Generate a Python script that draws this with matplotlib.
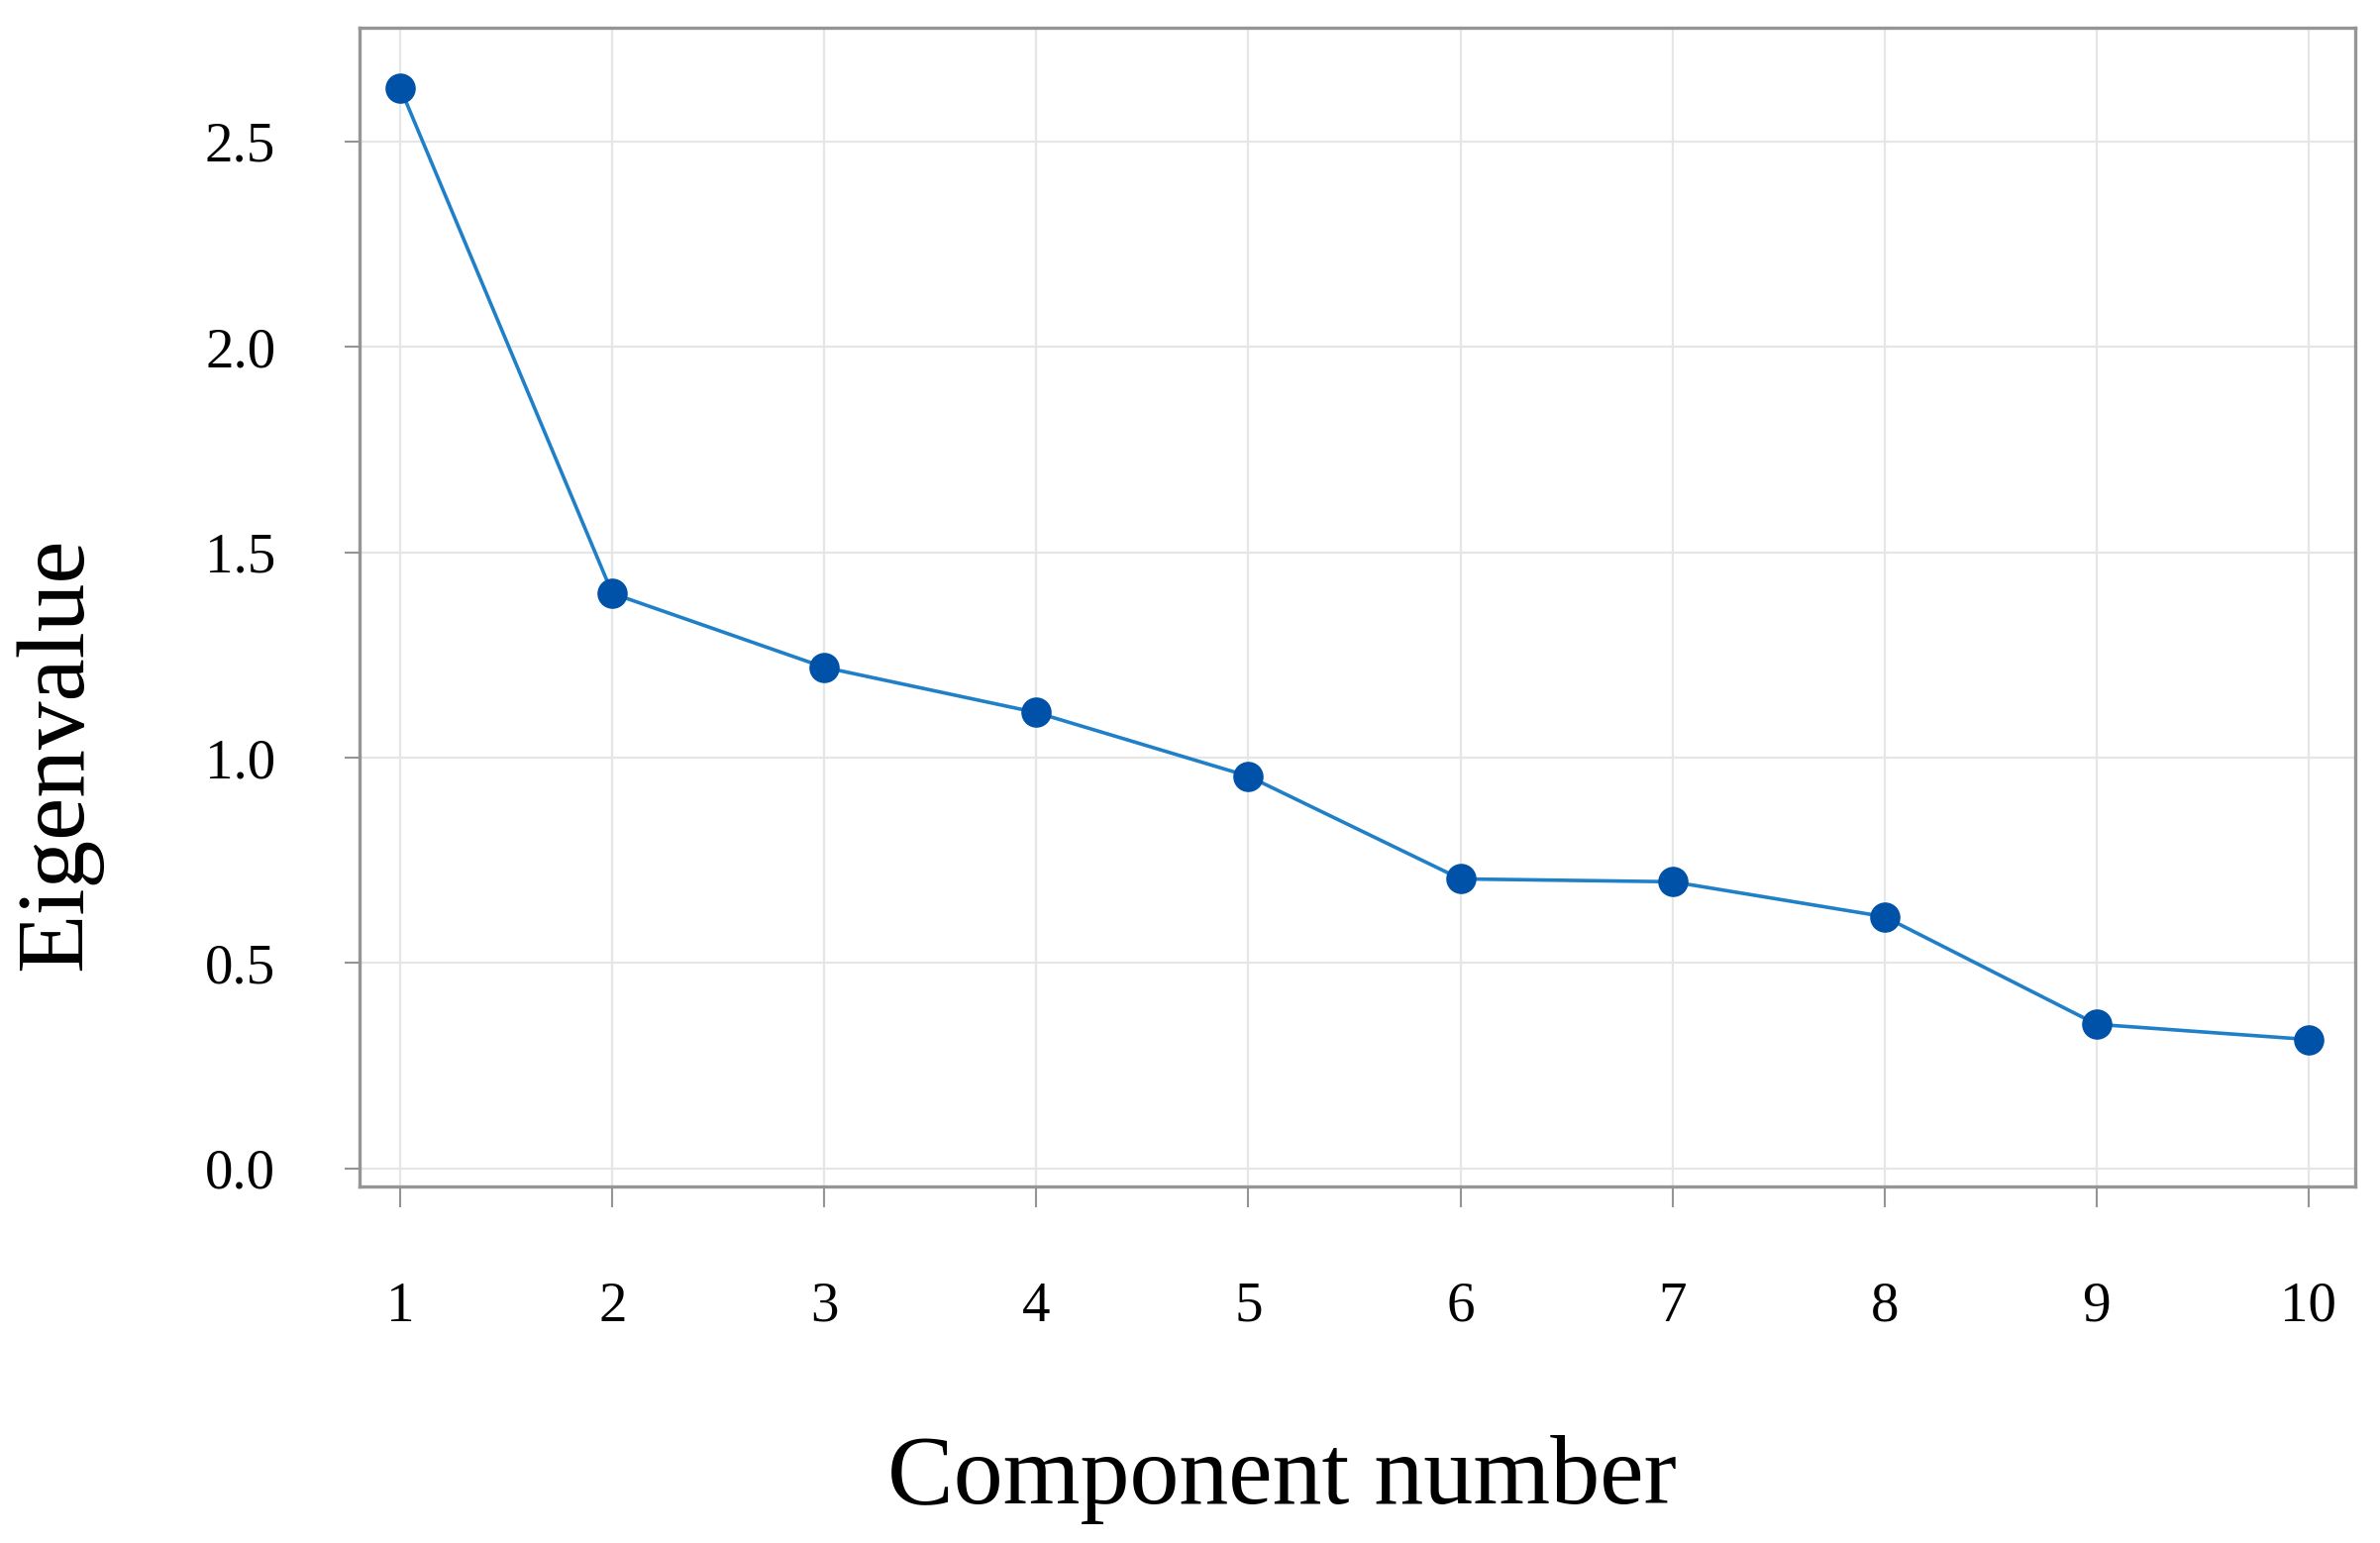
import numpy as np
import matplotlib
matplotlib.use("Agg")
import matplotlib.pyplot as plt

# scree plot values
components = [1, 2, 3, 4, 5, 6, 7, 8, 9, 10]
eigenvalues = [2.63, 1.40, 1.22, 1.11, 0.955, 0.705, 0.698, 0.613, 0.351, 0.314]
y_ticks = [0.0, 0.5, 1.0, 1.5, 2.0, 2.5]

plt.rcParams['font.family'] = ['Liberation Serif', 'DejaVu Serif']

fig = plt.figure(figsize=(24.03, 15.58), dpi=100)
ax = fig.add_axes([0.151, 0.231, 0.8386, 0.751])

ax.plot(components, eigenvalues, color='#1f80c8', linewidth=2.6, zorder=3)
ax.plot(components, eigenvalues, linestyle='none', marker='o', markersize=21,
        color='#0052a8', zorder=4)

ax.set_xlim(0.807, 10.22)
ax.set_ylim(-0.044, 2.777)
ax.set_xticks(components)
ax.set_yticks(y_ticks)
ax.set_yticklabels([f"{v:.1f}" for v in y_ticks])

ax.grid(True, color='#e6e6e6', linewidth=1.6)
ax.set_axisbelow(True)
for s in ax.spines.values():
    s.set_color('#959595')
    s.set_linewidth(2.4)

ax.tick_params(axis='x', length=15, width=1.5, color='#959595', pad=54, labelsize=41)
ax.tick_params(axis='y', length=11, width=1.5, color='#959595', pad=50, labelsize=41)

ax.set_xlabel("Component number", fontsize=72)
ax.xaxis.set_label_coords(0.4625, -0.253)
ax.xaxis.label.set_va('center')
ax.set_ylabel("Eigenvalue", fontsize=70)
ax.yaxis.set_label_coords(-0.151, 0.373)
ax.yaxis.label.set_va('center')

fig.savefig("out.png", dpi=100)
